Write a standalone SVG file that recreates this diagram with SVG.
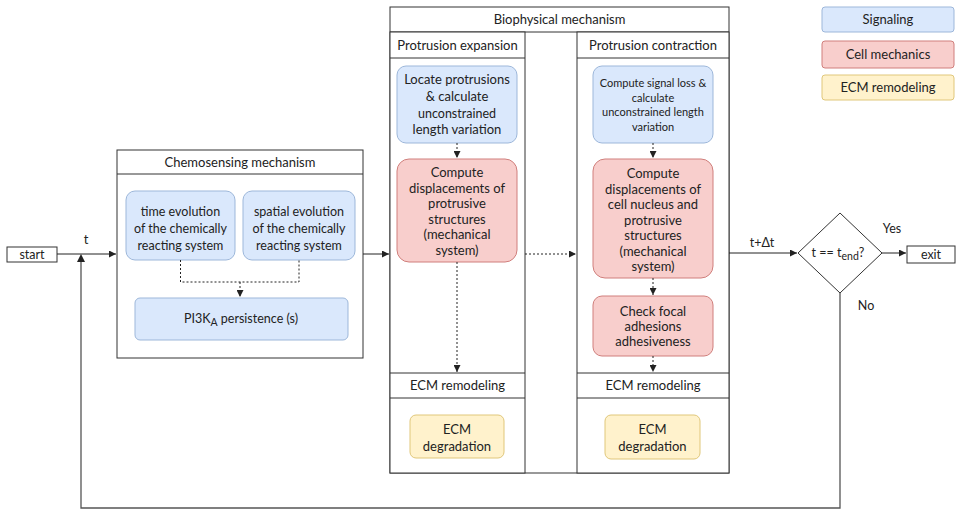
<svg xmlns="http://www.w3.org/2000/svg" width="960" height="513" viewBox="0 0 960 513">
<style>
text{font-family:Lato,"Open Sans","Liberation Sans",sans-serif;fill:#222;text-anchor:middle}
.t13{font-size:13px}
.t12{font-size:12.5px}
.t11{font-size:11px}
.lg{font-size:13px}
.lane{fill:#fff;stroke:#333;stroke-width:1}
.ln{stroke:#333;stroke-width:1;fill:none}
.sig{fill:#dae8fc;stroke:#9db7da;stroke-width:1}
.mec{fill:#f8cecc;stroke:#d07f7c;stroke-width:1}
.ecm{fill:#fff2cc;stroke:#e0c77a;stroke-width:1}
.plain{fill:#fff;stroke:#333;stroke-width:1}
.edge{stroke:#222;stroke-width:1;fill:none}
.dot{stroke:#222;stroke-width:1;fill:none;stroke-dasharray:2 2}
.loop{stroke:#555;stroke-width:1.3;fill:none}
</style>
<defs>
<marker id="ah" viewBox="0 0 8 8" refX="8" refY="4" markerWidth="7" markerHeight="7" markerUnits="userSpaceOnUse" orient="auto">
<path d="M0,0 L8,4 L0,8 Z" fill="#222"/>
</marker>
</defs>

<g id="legend">
<g id="legend-signaling"><rect class="sig" x="822" y="7" width="132" height="25" rx="3"/><text class="lg" x="888" y="24">Signaling</text></g>
<g id="legend-cell-mechanics"><rect class="mec" x="822" y="41" width="132" height="27" rx="3"/><text class="lg" x="888" y="59">Cell mechanics</text></g>
<g id="legend-ecm"><rect class="ecm" x="822" y="75" width="132" height="25" rx="3"/><text class="lg" x="888" y="92">ECM remodeling</text></g>
</g>

<g id="start"><rect class="plain" x="7" y="247" width="50" height="15"/><text class="t12" x="32" y="259">start</text></g>

<g id="chemosensing">
<rect class="lane" x="117" y="150" width="246" height="208"/>
<line class="ln" x1="117" y1="174" x2="363" y2="174"/>
<text class="t13" x="240" y="167">Chemosensing mechanism</text>
</g>
<g id="time-evolution"><rect class="sig" x="126" y="191" width="109" height="69" rx="9"/>
<text class="t12" x="180.5" y="216">time evolution</text><text class="t12" x="180.5" y="233">of the chemically</text><text class="t12" x="180.5" y="250">reacting system</text></g>
<g id="spatial-evolution"><rect class="sig" x="243" y="191" width="112" height="69" rx="9"/>
<text class="t12" x="299" y="216">spatial evolution</text><text class="t12" x="299" y="233">of the chemically</text><text class="t12" x="299" y="250">reacting system</text></g>
<g id="pi3k"><rect class="sig" x="135" y="298" width="213" height="42" rx="5"/>
<text class="t12" x="241" y="323">PI3K<tspan font-size="10.5" dy="3">A</tspan><tspan dy="-3"> persistence (s)</tspan></text></g>

<g id="biophysical">
<rect class="lane" x="390" y="7" width="339" height="466"/>
<line class="ln" x1="390" y1="32" x2="729" y2="32"/>
<text class="t13" x="559.5" y="24">Biophysical mechanism</text>
</g>
<g id="lane-expansion">
<rect class="lane" x="390" y="32" width="135" height="441"/>
<line class="ln" x1="390" y1="58" x2="525" y2="58"/>
<line class="ln" x1="390" y1="373" x2="525" y2="373"/>
<line class="ln" x1="390" y1="398" x2="525" y2="398"/>
<text class="t13" x="457.5" y="50">Protrusion expansion</text>
<text class="t13" x="457.5" y="390">ECM remodeling</text>
</g>
<g id="lane-contraction">
<rect class="lane" x="577" y="32" width="152" height="441"/>
<line class="ln" x1="577" y1="58" x2="729" y2="58"/>
<line class="ln" x1="577" y1="373" x2="729" y2="373"/>
<line class="ln" x1="577" y1="398" x2="729" y2="398"/>
<text class="t13" x="653" y="50">Protrusion contraction</text>
<text class="t13" x="653" y="390">ECM remodeling</text>
</g>

<g id="locate-protrusions"><rect class="sig" x="397" y="66" width="120" height="77" rx="9"/>
<text class="t13" x="457" y="84">Locate protrusions</text><text class="t13" x="457" y="101">&amp; calculate</text><text class="t12" x="457" y="118">unconstrained</text><text class="t13" x="457" y="134">length variation</text></g>
<g id="displacement-expansion"><rect class="mec" x="397" y="159" width="120" height="103" rx="12"/>
<text class="t13" x="457" y="177">Compute</text><text class="t13" x="457" y="193">displacements of</text><text class="t13" x="457" y="208">protrusive</text><text class="t13" x="457" y="224">structures</text><text class="t13" x="457" y="239">(mechanical</text><text class="t13" x="457" y="255">system)</text></g>
<g id="ecm-degradation-expansion"><rect class="ecm" x="410" y="415" width="94" height="43" rx="6"/>
<text class="t13" x="457" y="434">ECM</text><text class="t13" x="457" y="451">degradation</text></g>

<g id="signal-loss"><rect class="sig" x="593" y="66" width="120" height="77" rx="9"/>
<text class="t11" x="653" y="87">Compute signal loss &amp;</text><text class="t11" x="653" y="102">calculate</text><text class="t11" x="653" y="116">unconstrained length</text><text class="t11" x="653" y="131">variation</text></g>
<g id="displacement-contraction"><rect class="mec" x="593" y="159" width="120" height="119" rx="12"/>
<text class="t13" x="653" y="178">Compute</text><text class="t13" x="653" y="194">displacements of</text><text class="t13" x="653" y="209">cell nucleus and</text><text class="t13" x="653" y="225">protrusive</text><text class="t13" x="653" y="240">structures</text><text class="t13" x="653" y="256">(mechanical</text><text class="t13" x="653" y="271">system)</text></g>
<g id="check-focal"><rect class="mec" x="593" y="296" width="120" height="60" rx="9"/>
<text class="t13" x="653" y="316">Check focal</text><text class="t13" x="653" y="331">adhesions</text><text class="t13" x="653" y="346">adhesiveness</text></g>
<g id="ecm-degradation-contraction"><rect class="ecm" x="605" y="415" width="95" height="44" rx="6"/>
<text class="t13" x="652.5" y="434">ECM</text><text class="t13" x="652.5" y="451">degradation</text></g>

<g id="decision"><path class="plain" d="M840,213 L882,253 L840,293 L798,253 Z"/>
<text class="t12" x="838" y="257">t == t<tspan font-size="10.5" dy="3">end</tspan><tspan dy="-3">?</tspan></text></g>
<g id="exit"><rect class="plain" x="907" y="246" width="48" height="17"/><text class="t12" x="931" y="259">exit</text></g>

<g id="connectors">
<path class="edge" d="M57,254 H116" marker-end="url(#ah)"/>
<path class="loop" d="M840,293 V508 H81 V256"/>
<path d="M77,262 L81,254 L85,262 Z" fill="#222"/>
<text class="t13" x="86" y="244">t</text>
<path class="edge" d="M363,254 H389" marker-end="url(#ah)"/>
<path class="dot" d="M180.5,260 V282 H299 V260"/>
<path class="dot" d="M240,282 V297" marker-end="url(#ah)"/>
<path class="dot" d="M457,143 V158" marker-end="url(#ah)"/>
<path class="dot" d="M457,262 V372" marker-end="url(#ah)"/>
<path class="dot" d="M525,254 H576" marker-end="url(#ah)"/>
<path class="dot" d="M653,143 V158" marker-end="url(#ah)"/>
<path class="dot" d="M653,278 V295" marker-end="url(#ah)"/>
<path class="dot" d="M653,356 V372" marker-end="url(#ah)"/>
<path class="edge" d="M729,253 H797" marker-end="url(#ah)"/>
<text class="t12" x="762" y="247">t+Δt</text>
<path class="edge" d="M882,253 H906" marker-end="url(#ah)"/>
<text class="t12" x="892" y="233">Yes</text>
<text class="t12" x="866" y="310">No</text>
</g>
</svg>
